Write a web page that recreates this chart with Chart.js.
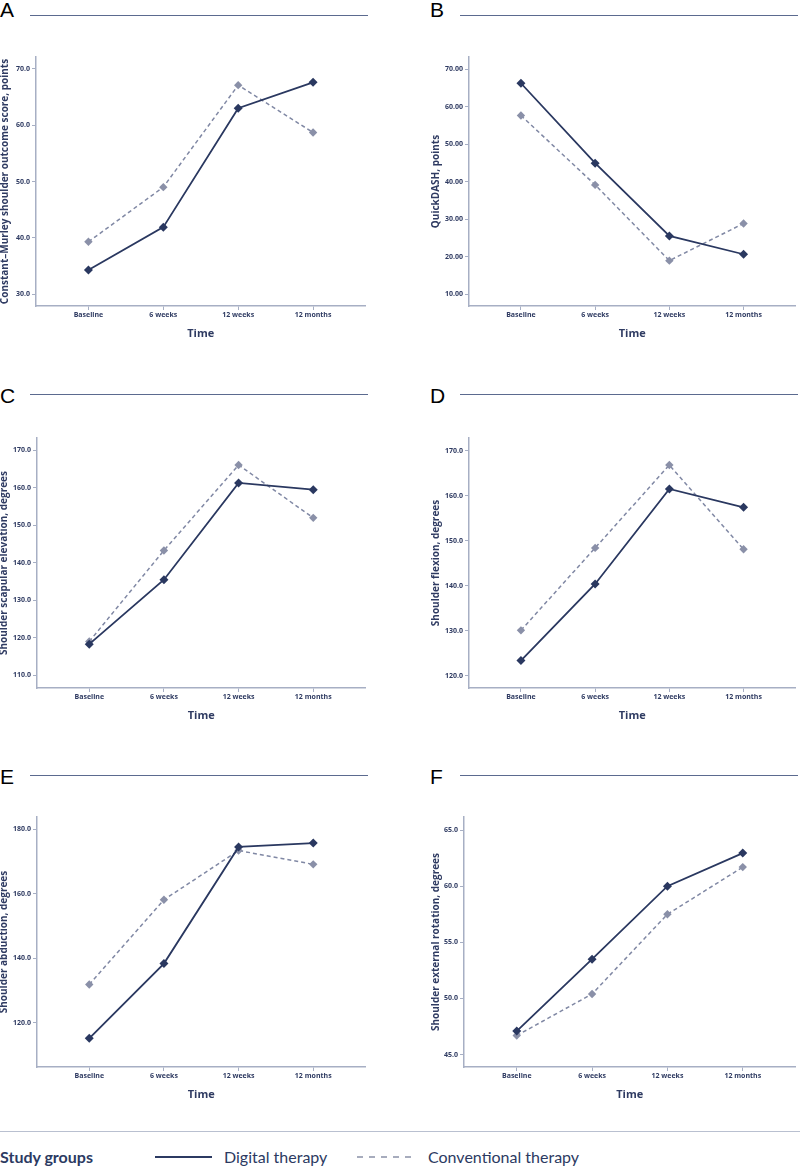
<!DOCTYPE html>
<html>
<head>
<meta charset="utf-8">
<script src="https://cdn.jsdelivr.net/npm/chart.js@4/dist/chart.umd.min.js"></script>
<style>
  body { margin: 0; width: 800px; height: 1166px; position: relative; background: #fff; overflow: hidden; font-family: Lato, sans-serif; }
  .letter { position: absolute; font: 21px "Liberation Sans", Arial, sans-serif; line-height: 1; color: #000; }
  .rule { position: absolute; height: 0; border-top: 1.3px solid #5b6a8f; }
  canvas { position: absolute; }
  .sep { position: absolute; left: 0; top: 1131px; width: 800px; border-top: 1px solid #b9c0d0; }
  .leg { position: absolute; top: 1147px; font-size: 16px; color: #2c3a62; line-height: 20px; white-space: nowrap; }
</style>
</head>
<body>

<div class="letter" style="left:0;top:-1px">A</div>
<div class="rule" style="left:30px;top:15px;width:338px"></div>
<div class="letter" style="left:430px;top:-1px">B</div>
<div class="rule" style="left:460px;top:15px;width:338px"></div>
<div class="letter" style="left:0;top:385px">C</div>
<div class="rule" style="left:30px;top:394px;width:338px"></div>
<div class="letter" style="left:430px;top:385px">D</div>
<div class="rule" style="left:460px;top:394px;width:338px"></div>
<div class="letter" style="left:0;top:766px">E</div>
<div class="rule" style="left:30px;top:775px;width:338px"></div>
<div class="letter" style="left:430px;top:766px">F</div>
<div class="rule" style="left:460px;top:775px;width:338px"></div>

<canvas id="chartA" width="370" height="290" style="left:0;top:50px"></canvas>
<canvas id="chartB" width="400" height="290" style="left:400px;top:50px"></canvas>
<canvas id="chartC" width="370" height="292" style="left:0;top:430px"></canvas>
<canvas id="chartD" width="400" height="292" style="left:400px;top:430px"></canvas>
<canvas id="chartE" width="370" height="291" style="left:0;top:810px"></canvas>
<canvas id="chartF" width="400" height="291" style="left:400px;top:810px"></canvas>

<div class="sep"></div>
<div class="leg" style="left:0;font-weight:bold">Study groups</div>
<svg style="position:absolute;left:155px;top:1150px" width="60" height="14"><line x1="0" y1="7" x2="57" y2="7" stroke="#2c3a62" stroke-width="2"/></svg>
<div class="leg" style="left:224px">Digital therapy</div>
<svg style="position:absolute;left:357px;top:1150px" width="60" height="14"><line x1="0" y1="7" x2="58" y2="7" stroke="#8a91a8" stroke-width="1.6" stroke-dasharray="6,6"/></svg>
<div class="leg" style="left:428px">Conventional therapy</div>

<script>
// time points shared by all panels
const timepoints = ['Baseline', '6 weeks', '12 weeks', '12 months'];

// A - Constant-Murley
const digitalA = [34.3, 41.9, 63.0, 67.6];
const conventionalA = [39.3, 49.0, 67.1, 58.7];
const ticksA = [30, 40, 50, 60, 70];

// B - QuickDASH
const digitalB = [66.2, 44.9, 25.5, 20.6];
const conventionalB = [57.6, 39.1, 18.9, 28.8];
const ticksB = [10, 20, 30, 40, 50, 60, 70];

// C - scapular elevation
const digitalC = [118.3, 135.5, 161.3, 159.5];
const conventionalC = [119.0, 143.3, 166.1, 152.0];
const ticksC = [110, 120, 130, 140, 150, 160, 170];

// D - flexion
const digitalD = [123.4, 140.4, 161.5, 157.4];
const conventionalD = [130.1, 148.4, 166.8, 148.1];
const ticksD = [120, 130, 140, 150, 160, 170];

// E - abduction
const digitalE = [115.1, 138.3, 174.5, 175.7];
const conventionalE = [131.8, 158.1, 173.4, 169.1];
const ticksE = [120, 140, 160, 180];

// F - external rotation
const digitalF = [47.1, 53.5, 60.0, 62.95];
const conventionalF = [46.7, 50.4, 57.5, 61.7];
const ticksF = [45, 50, 55, 60, 65];

const navy = '#2a3860';
const greyLine = '#8088a4';
const greyPoint = '#8a90a8';
const axisCol = '#a7afc4';
const textCol = '#2f3b62';
const fontFam = '"Open Sans", sans-serif';

function makeChart(id, digital, conventional, yTicks, dec, yTitle, yMin, yMax, box) {
    const ctx = document.getElementById(id).getContext('2d');
    new Chart(ctx, {
        type: 'line',
        data: {
            datasets: [{
                label: 'Digital therapy',
                data: digital.map((v, i) => ({ x: i, y: v })),
                borderColor: navy,
                backgroundColor: navy,
                borderWidth: 1.8,
                pointStyle: 'rectRot',
                pointRadius: 4.5,
                pointBorderWidth: 0,
                pointBackgroundColor: navy
            }, {
                label: 'Conventional therapy',
                data: conventional.map((v, i) => ({ x: i, y: v })),
                borderColor: greyLine,
                borderDash: [4, 3],
                borderWidth: 1.5,
                pointStyle: 'rectRot',
                pointRadius: 4.2,
                pointBorderWidth: 0,
                pointBackgroundColor: greyPoint
            }]
        },
        options: {
            responsive: false,
            animation: false,
            layout: { padding: { top: box.top, right: box.right, left: 0, bottom: 0 } },
            plugins: { legend: { display: false }, tooltip: { enabled: false } },
            scales: {
                x: {
                    type: 'linear',
                    min: -0.7,
                    max: 3.7,
                    afterBuildTicks: s => { s.ticks = timepoints.map((_, i) => ({ value: i })); },
                    afterFit: s => { s.height = 34; },
                    ticks: {
                        callback: v => timepoints[v],
                        font: { family: fontFam, size: 7, weight: 'bold' },
                        color: textCol,
                        padding: 1,
                        maxRotation: 0,
                        autoSkip: false
                    },
                    grid: { display: true, drawOnChartArea: false, drawTicks: true, tickLength: 4, color: axisCol },
                    border: { color: axisCol, width: 1.5 },
                    title: {
                        display: true, text: 'Time', color: textCol,
                        font: { family: fontFam, size: 11, weight: 'bold' },
                        padding: { top: 5, bottom: 0 }
                    }
                },
                y: {
                    min: yMin,
                    max: yMax,
                    afterBuildTicks: s => { s.ticks = yTicks.map(v => ({ value: v })); },
                    afterFit: s => { s.width = box.yW; },
                    ticks: {
                        callback: v => v.toFixed(dec),
                        font: { family: fontFam, size: 7, weight: 'bold' },
                        color: textCol,
                        padding: 2
                    },
                    grid: { display: true, drawOnChartArea: false, drawTicks: true, tickLength: 4, color: axisCol },
                    border: { color: axisCol, width: 1.5 },
                    title: {
                        display: true, text: yTitle, color: textCol,
                        font: { family: fontFam, size: 10, weight: 'bold' },
                        padding: { top: box.titlePad, bottom: 0 }
                    }
                }
            }
        }
    });
}

makeChart('chartA', digitalA, conventionalA, ticksA, 1, 'Constant\u2013Murley shoulder outcome score, points', 27.9, 72.1,
    { top: 7, right: 2, yW: 36, titlePad: -1 });
makeChart('chartB', digitalB, conventionalB, ticksB, 2, 'QuickDASH, points', 6.8, 73.2,
    { top: 7, right: 0, yW: 69, titlePad: 30 });
makeChart('chartC', digitalC, conventionalC, ticksC, 1, 'Shoulder scapular elevation, degrees', 106.6, 173.3,
    { top: 8, right: 2, yW: 37, titlePad: -2 });
makeChart('chartD', digitalD, conventionalD, ticksD, 1, 'Shoulder flexion, degrees', 117.3, 172.8,
    { top: 8, right: 0, yW: 69, titlePad: 30 });
makeChart('chartE', digitalE, conventionalE, ticksE, 1, 'Shoulder abduction, degrees', 106.2, 183.8,
    { top: 7, right: 2, yW: 37, titlePad: -2 });
makeChart('chartF', digitalF, conventionalF, ticksF, 1, 'Shoulder external rotation, degrees', 43.9, 66.16,
    { top: 7, right: 0, yW: 64, titlePad: 30 });
</script>
</body>
</html>
